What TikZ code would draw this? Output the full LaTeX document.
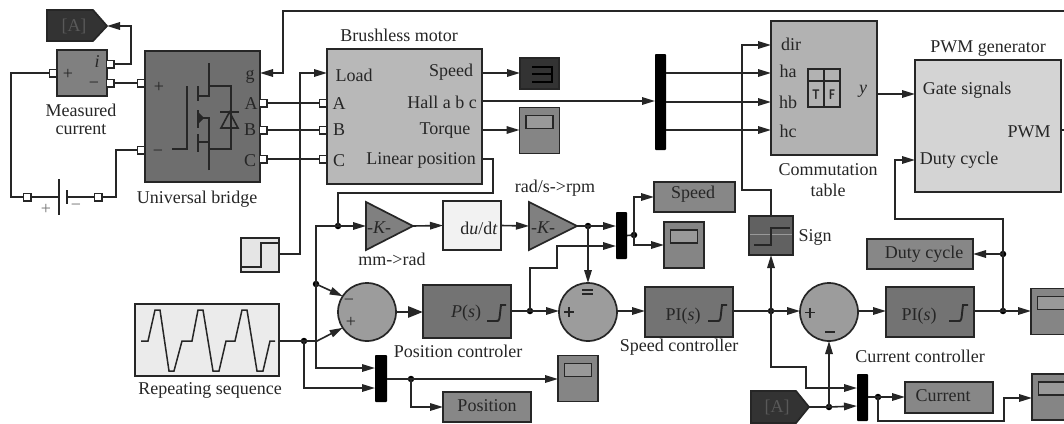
\documentclass[tikz,border=0pt]{standalone}
\usepackage{fontspec}
\setmainfont{Liberation Serif}
\usetikzlibrary{arrows.meta,calc}
\definecolor{ink}{HTML}{262626}
\tikzset{
  every node/.style={inner sep=0pt,outer sep=0pt,text=ink},
  blk/.style={draw=ink,line width=1.7pt,rectangle},
  lab/.style={font=\fontsize{18}{19}\selectfont},
  port/.style={draw=ink,line width=1.5pt,fill=white,rectangle,minimum size=7.5pt},
  dot/.style={circle,fill=black,minimum size=6.5pt},
  bar/.style={rectangle,fill=black,rounded corners=0.8pt},
  conn/.style={draw=ink,line width=1.6pt},
  arr/.style={conn,-{Triangle[length=13pt,width=7.5pt]}},
  sum/.style={circle,draw=ink,line width=1.7pt,fill=gray!78!white,minimum size=58pt},
  scopebox/.style={blk,fill=black!48,minimum width=40pt,minimum height=46pt},
  screen/.style={blk,fill=black!40,minimum width=27pt,minimum height=13pt},
  icon/.style={draw=ink,line width=1.5pt},
  sat/.style={draw=ink,line width=1.9pt},
}
\newcommand{\myscope}[2]{%
  \node[scopebox] (#1) at (#2) {};
  \node[screen,anchor=north] (#1s) at ([yshift=-8pt]#1.north) {};}
\newcommand{\satcurve}[2]{%
  \draw[sat] (#1,#2) -- ++(9,0) .. controls ++(4,0) and ++(-2,16) .. ++(5,-16) -- ++(5,0);}
\begin{document}
\begin{tikzpicture}[x=1pt,y=-1pt]
\useasboundingbox (0,0) rectangle (1064,423);
\clip (0,0) rectangle (1064,423);
\fill[white] (0,0) rectangle (1064,423);

% ---- blocks
\draw[blk,fill=black!80] (47,10) -- (93,10) -- (107,26) -- (93,41) -- (47,41) -- cycle;
\coordinate (tagA) at (107,26);
\node[lab] (tagAt) at (74,26) {\textcolor{black!65}{[A]}};
\node[blk,fill=black!50,minimum width=50pt,minimum height=46pt] (meas) at (82,73) {};
\node[blk,fill=black!57,minimum width=115pt,minimum height=131pt] (bridge) at (202.5,116.5) {};
\node[blk,fill=black!28,minimum width=155pt,minimum height=135pt] (motor) at (404.5,116.5) {};
\node[blk,fill=black!30,minimum width=106pt,minimum height=134pt] (comm) at (824,88) {};
\node[blk,fill=black!17,minimum width=146pt,minimum height=132pt] (pwm) at (988,126) {};
\node[blk,fill=black!10,minimum width=38pt,minimum height=34pt] (stepb) at (260,255) {};
\node[blk,fill=black!80,minimum width=39pt,minimum height=31pt] (disp) at (539.5,73.5) {};
\myscope{scT}{539.5,130.5}
\myscope{scS}{684,245}
\myscope{scP}{578,378.5}
\myscope{scM}{1051,311.5}
\myscope{scC}{1052,397}
\node[blk,fill=black!5,minimum width=58pt,minimum height=49pt] (dudt) at (472,225.5) {};
\draw[blk,fill=black!50] (366,202) -- (413,226) -- (366,250) -- cycle;
\coordinate (g1i) at (366,226); \coordinate (g1o) at (413,226);
\draw[blk,fill=black!50] (529,202) -- (577,226) -- (529,250) -- cycle;
\coordinate (g2i) at (529,226); \coordinate (g2o) at (577,226);
\node[blk,fill=black!47,minimum width=81pt,minimum height=30pt] (bSpeed) at (694.5,197) {};
\node[blk,fill=black!47,minimum width=106pt,minimum height=30pt] (bDuty) at (920,254) {};
\node[blk,fill=black!47,minimum width=88pt,minimum height=31pt] (bCurr) at (949,397.5) {};
\node[blk,fill=black!47,minimum width=88pt,minimum height=30pt] (bPos) at (487,407) {};
\node[blk,fill=black!62,minimum width=44pt,minimum height=39pt] (sign) at (771,235.5) {};
\node[blk,fill=black!8,minimum width=144pt,minimum height=72pt] (rep) at (207,340) {};
\node[sum] (c1) at (367,312) {};
\node[sum] (c2) at (588,312) {};
\node[sum] (c3) at (829,312) {};
\node[blk,fill=black!55,minimum width=88pt,minimum height=53pt] (Ps) at (467,311.5) {};
\node[blk,fill=black!55,minimum width=88pt,minimum height=50pt] (PI1) at (689,312) {};
\node[blk,fill=black!55,minimum width=88pt,minimum height=50pt] (PI2) at (930,312) {};
\draw[blk,fill=black!80] (751,391) -- (796,391) -- (809,407) -- (796,423) -- (751,423) -- cycle;
\coordinate (tagB) at (809,407);
\node[lab] (tagBt) at (777,407) {\textcolor{black!65}{[A]}};
% bars
\node[bar,minimum width=11pt,minimum height=96pt] (dmx) at (660.5,102) {};
\node[bar,minimum width=11pt,minimum height=47pt] (mxS) at (621.5,235.5) {};
\node[bar,minimum width=12pt,minimum height=47pt] (mxP) at (381,378.5) {};
\node[bar,minimum width=11pt,minimum height=47pt] (mxC) at (862.5,397.5) {};

% ---- ports
\node[port] (pmP) at (53,73) {};
\node[port] (pmI) at (110,64) {};
\node[port] (pmM) at (110,83) {};
\node[port] (pbP) at (141,83) {};
\node[port] (pbM) at (141,150) {};
\node[port] (pbA) at (263,103) {};
\node[port] (pbB) at (263,130) {};
\node[port] (pbC) at (263,159) {};
\node[port] (pmA) at (323,103) {};
\node[port] (pmB) at (323,130) {};
\node[port] (pmC) at (323,159) {};
\node[port] (batL) at (27,197) {};
\node[port] (batR) at (98,197) {};
\coordinate (plateL) at (59,197);
\coordinate (plateR) at (67,197);
\draw[icon,line width=1.9pt] (59,179) -- (59,215);
\draw[icon,line width=1.9pt] (67,190) -- (67,204);

% ---- junctions
\node[dot] (jLin) at (338,226) {};
\node[dot] (jFb) at (316,284) {};
\node[dot] (jRep) at (304,341) {};
\node[dot] (jPo) at (411,379) {};
\node[dot] (jPs) at (530,311) {};
\node[dot] (jRpm) at (588,226) {};
\node[dot] (jSp) at (634,235) {};
\node[dot] (jPI) at (771,311) {};
\node[dot] (jOut) at (1003,311) {};
\node[dot] (jDuty) at (1003,254) {};
\node[dot] (jA) at (829,407) {};
\node[dot] (jCu) at (878,397) {};

% ---- connectors
\draw[conn] (pmP.west) -| (11,197) -- (batL.west);
\draw[conn] (batL.east) -- (plateL);
\draw[conn] (plateR) -- (batR.west);
\draw[conn] (batR.east) -| (116,150) -- (pbM.west);
\draw[conn] (pmM.east) -- (pbP.west);
\draw[arr] (pmI.east) -| (131,26) -- (tagA);
\draw[arr] (1064,11) -| (283,73) -- (bridge.east |- 0,73);
\draw[conn] (pbA.east) -- (pmA.west);
\draw[conn] (pbB.east) -- (pmB.west);
\draw[conn] (pbC.east) -- (pmC.west);
\draw[arr] (stepb.east |- 0,254) -| (300,73) -- (motor.west |- 0,73);
\draw[arr] (motor.east |- 0,73) -- (disp.west |- 0,73);
\draw[arr] (motor.east |- 0,101) -- (dmx.west |- 0,101);
\draw[arr] (motor.east |- 0,130) -- (scT.west |- 0,130);
\draw[conn] (motor.east |- 0,159) -| (493,193) -| (jLin.center);
\draw[arr] (dmx.east |- 0,73) -- (comm.west |- 0,73);
\draw[arr] (dmx.east |- 0,102) -- (comm.west |- 0,102);
\draw[arr] (dmx.east |- 0,130) -- (comm.west |- 0,130);
\draw[arr] (comm.east |- 0,94) -- (pwm.west |- 0,94);
\draw[conn] (pwm.east |- 0,130) -- (1064,130);
\draw[arr] (jLin.center) -- (g1i);
\draw[conn] (jLin.center) -- (316,226) -- (jFb.center);
\draw[arr] (jFb.center) -- (c1.147);
\draw[arr] (jFb.center) |- (mxP.west |- 0,368);
\draw[arr] (g1o) -- (dudt.west);
\draw[arr] (dudt.east) -- (g2i);
\draw[conn] (g2o) -- (jRpm.center);
\draw[arr] (jRpm.center) -- (mxS.west |- jRpm);
\draw[arr] (jRpm.center) -- (c2.north);
\draw[arr] (jPs.center) |- (557,268) |- (mxS.west |- 0,246);
\draw[conn] (mxS.east) -- (jSp.center);
\draw[arr] (jSp.center) |- (bSpeed.west);
\draw[arr] (jSp.center) |- (scS.west |- 0,245);
\draw[conn] (rep.east |- jRep) -- (jRep.center);
\draw[arr] (jRep.center) -- (317,341) -- (c1.213);
\draw[arr] (jRep.center) |- (mxP.west |- 0,388);
\draw[arr,line width=2.8pt,-{Triangle[length=15pt,width=11pt]}] (c1.east) -- (Ps.west |- c1);
\draw[conn] (Ps.east |- jPs) -- (jPs.center);
\draw[arr] (jPs.center) -- (c2.west |- jPs);
\draw[arr] (c2.east |- 0,311) -- (PI1.west |- 0,311);
\draw[conn] (PI1.east |- jPI) -- (jPI.center);
\draw[arr] (jPI.center) -- (c3.west |- jPI);
\draw[arr] (jPI.center) -- (sign.south);
\draw[arr] (sign.north) -- (771,190) -| (742,45) -- (comm.west |- 0,45);
\draw[arr] (jPI.center) -- (771,367) -| (806,388) -- (mxC.west |- 0,388);
\draw[arr] (c3.east |- 0,311) -- (PI2.west |- 0,311);
\draw[conn] (PI2.east |- jOut) -- (jOut.center);
\draw[arr] (jOut.center) -- (scM.west |- jOut);
\draw[conn] (jOut.center) -- (jDuty.center);
\draw[arr] (jDuty.center) -- (bDuty.east);
\draw[arr] (jDuty.center) |- (895,219) |- (pwm.west |- 0,160);
\draw[conn] (tagB) -- (jA.center);
\draw[arr] (jA.center) -- (mxC.west |- 0,406);
\draw[arr] (jA.center) -- (c3.south);
\draw[conn] (mxC.east |- jCu) -- (jCu.center);
\draw[arr] (jCu.center) -- (bCurr.west |- jCu);
\draw[arr] (jCu.center) |- (1004,421) |- (scC.west |- 0,398);
\draw[conn] (mxP.east |- jPo) -- (jPo.center);
\draw[arr] (jPo.center) -- (scP.west |- jPo);
\draw[arr] (jPo.center) |- (bPos.west);

% ---- block icons
% MOSFET and diode in the bridge
\draw[icon,line width=1.8pt] (172,149) -- (187,149) -- (187,86);
\draw[icon,line width=1.8pt] (198,86) -- (198,101) (198,110) -- (198,128) (198,134) -- (198,152);
\draw[icon] (209,63) -- (209,96) -- (198,96);
\draw[icon] (209,86) -- (231,86) -- (231,149) -- (209,149);
\draw[icon] (198,142) -- (209,142);
\draw[icon] (209,170) -- (209,118) -- (198,118);
\fill[ink] (198,112) -- (204,118) -- (198,124) -- cycle;
\draw[icon,line width=1.6pt] (221,128) -- (238,128) -- (229.5,112) -- cycle;
\draw[icon,line width=1.6pt] (220,112) -- (239,112);
% step blocks
\draw[icon] (241,267) -- (261,267) -- (261,243) -- (279,243);
\draw[black!40,line width=.6pt] (750,234) -- (792,234);
\draw[icon,line width=1.8pt] (754,245) -- (771,245) -- (771,228) -- (790,228);
% display
\draw[icon,black] (532,67) -- (552,67) -- (552,82) -- (532,82) (532,74) -- (552,74);
% waveform
\draw[icon] (141,341) -- (148,341) -- (155,310) -- (160,310) -- (169,371) -- (174,371) -- (182,341) -- (192,341) -- (198,310) -- (203,310) -- (213,371) -- (219,371) -- (226,341) -- (235,341) -- (242,310) -- (247,310) -- (257,371) -- (263,371) -- (270,341) -- (275,341);
% truth table
\draw[icon,line width=1.6pt] (808,69) rectangle (840,107) (824,69) -- (824,107) (808,81) -- (840,81);
\node[font=\sffamily\bfseries\fontsize{14}{14}\selectfont,xscale=.75] (tT) at (816,95) {T};
\node[font=\sffamily\bfseries\fontsize{14}{14}\selectfont,xscale=.75] (tF) at (832,95) {F};
% saturations
\satcurve{487}{321}
\satcurve{708}{321}
\satcurve{949}{321}
% signs
\draw[ink,line width=1.9pt] (564,312) -- (574,312)  (569,307) -- (569,317);
\draw[ink,line width=1.8pt] (582,290) -- (593,290) (582,294) -- (593,294);
\draw[ink,line width=1.9pt] (805,312.5) -- (815,312.5) (810,307.5) -- (810,317.5);
\draw[ink,line width=1.9pt] (825,332) -- (835,332);

% ---- labels
\node[lab] (t1) at (81,110) {Measured};
\node[lab] (t2) at (81,130) {current};
\node[lab] (t3) at (97,62) {\itshape i};
\node[lab] (t4) at (68,74) {+};
\node[lab] (t5) at (94,85) {−};
\node[lab] (t6) at (159,87) {+};
\node[lab] (t7) at (158,153) {−};
\node[lab] (t8) at (250,77) {g};
\node[lab] (t9) at (251,104) {A};
\node[lab] (t10) at (250,130) {B};
\node[lab] (t11) at (250,161) {C};
\node[lab] (t12) at (197,199) {Universal bridge};
\node[lab,text=black!55] (t13) at (46,209) {+};
\node[lab,text=black!55] (t14) at (76,207) {−};
\node[lab] (t15) at (399,35) {Brushless motor};
\node[lab] (t16) at (354,75) {Load};
\node[lab] (t17) at (339,104) {A};
\node[lab] (t18) at (339,130) {B};
\node[lab] (t19) at (339,161) {C};
\node[lab] (t20) at (451,72) {Speed};
\node[lab] (t21) at (442,102) {Hall a b c};
\node[lab] (t22) at (445,131) {Torque};
\node[lab] (t23) at (421,160) {Linear position};
\node[lab] (t24) at (791,44) {dir};
\node[lab] (t25) at (788,71) {ha};
\node[lab] (t26) at (788,102) {hb};
\node[lab] (t27) at (788,131) {hc};
\node[lab] (t28) at (863,91) {\itshape y};
\node[lab] (t29) at (828,170) {Commutation};
\node[lab] (t30) at (828,190) {table};
\node[lab] (t31) at (988,49) {PWM generator};
\node[lab] (t32) at (967,90) {Gate signals};
\node[lab] (t33) at (1029,132) {PWM};
\node[lab] (t34) at (959,160) {Duty cycle};
\node[lab] (t35) at (815,237) {Sign};
\node[lab] (t36) at (924,254) {Duty cycle};
\node[lab] (t37) at (693,194) {Speed};
\node[lab] (t38) at (943,396) {Current};
\node[lab] (t39) at (487,406) {Position};
\node[lab] (t40) at (920,356) {Current controller};
\node[lab] (t41) at (679,347) {Speed controller};
\node[lab] (t42) at (458,351) {Position controler};
\node[lab] (t43) at (210,390) {Repeating sequence};
\node[lab] (t44) at (466,313) {\textit{P}(\textit{s})};
\node[lab] (t45) at (683,316) {PI(\textit{s})};
\node[lab] (t46) at (919,316) {PI(\textit{s})};
\node[lab] (t47) at (479,228) {d\textit{u}/d\textit{t}};
\node[lab] (t48) at (379,228) {\itshape -K-};
\node[lab] (t49) at (543,228) {\itshape -K-};
\node[lab] (t50) at (555,188) {rad/s->rpm};
\node[lab] (t51) at (392,259) {mm->rad};
\node[lab] (t52) at (349,302) {−};
\node[lab] (t53) at (351,322) {+};
\end{tikzpicture}
\end{document}
